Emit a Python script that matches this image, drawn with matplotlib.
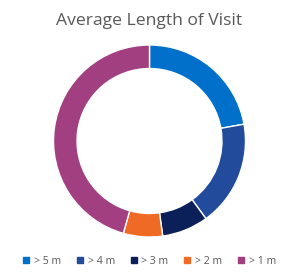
import matplotlib.pyplot as plt
from matplotlib.lines import Line2D

# visit length buckets (share of visits, %)
labels = ['> 5 m', '> 4 m', '> 3 m', '> 2 m', '> 1 m']
shares = [22.2, 17.8, 7.8, 6.6, 45.6]
colors = ['#0070CB', '#224B9C', '#0B1F59', '#EF6A24', '#A23F81']

fig = plt.figure(figsize=(2.99, 2.76), dpi=100)
plt.rcParams['font.family'] = ['Open Sans', 'DejaVu Sans']

# donut: centre ~ (149.5, 141) px, outer radius ~96 px
r = 96
ax = fig.add_axes([(149.5 - r) / 299, (276 - 141 - r) / 276, 2 * r / 299, 2 * r / 276])
ax.pie(shares, colors=colors, startangle=90, counterclock=False, radius=1,
       wedgeprops=dict(width=0.245, edgecolor='white', linewidth=1))
ax.set_xlim(-1, 1)
ax.set_ylim(-1, 1)
ax.set_aspect('equal')
ax.axis('off')

fig.text(0.5, 1 - 21 / 276, 'Average Length of Visit', ha='center', va='center',
         fontsize=12.6, color='#595959')

handles = [Line2D([], [], marker='s', linestyle='', markersize=4.5,
                  markerfacecolor=c, markeredgecolor=c) for c in colors]
fig.legend(handles, labels, loc='center', bbox_to_anchor=(0.5, 1 - 261 / 276),
           ncol=5, frameon=False, fontsize=7.6, labelcolor='#595959',
           handlelength=0.6, handletextpad=0.45, columnspacing=1.45)

fig.savefig('out.png', dpi=100)
